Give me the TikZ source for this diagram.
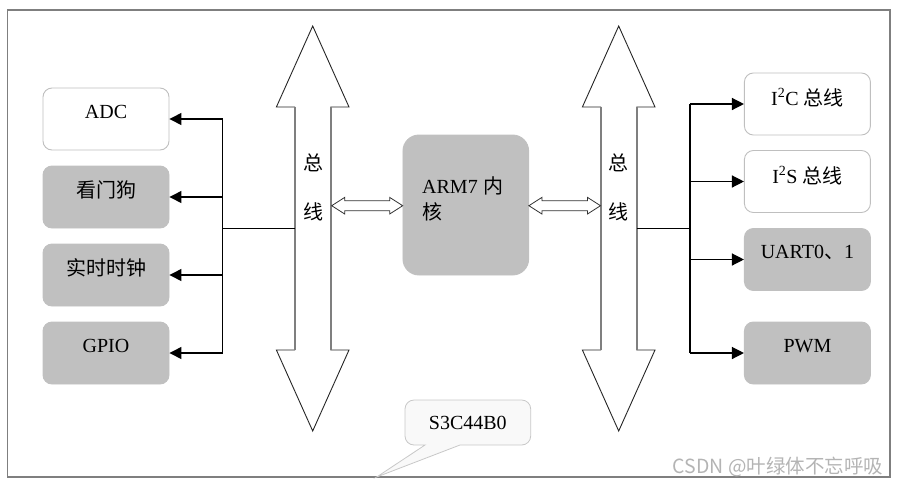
\documentclass[tikz,border=0pt]{standalone}
\usepackage{fontspec}
\setmainfont{Liberation Serif}
\newfontfamily\cjk{Noto Sans CJK SC}
\usetikzlibrary{arrows.meta,calc}
\newcommand\zh[1]{{\cjk #1}}
\definecolor{boxgray}{HTML}{C0C0C0}
\definecolor{bordergray}{HTML}{BFBFBF}
\definecolor{framegray}{HTML}{7F7F7F}
\definecolor{callfill}{HTML}{F9F9F9}
\definecolor{callline}{HTML}{C8C8C8}
\definecolor{wmgray}{HTML}{B4B4B4}
\tikzset{
  whitebox/.style={draw=bordergray, line width=0.9pt, fill=white, rounded corners=9pt, minimum width=126pt, minimum height=62pt, inner sep=0pt},
  graybox/.style={draw=boxgray, line width=0.9pt, fill=boxgray, rounded corners=9pt, minimum width=126pt, minimum height=62pt, inner sep=0pt},
  txt/.style={font=\fontsize{20}{24}\selectfont, inner sep=0pt},
  conn/.style={draw=black, line width=1.3pt},
  arr/.style={conn, -{Triangle[length=12pt,width=12pt]}},
  bus/.style={draw=black!85, line width=0.9pt, fill=white, line join=miter},
  shaft/.style={draw=framegray, line width=1.6pt},
  dbl/.style={draw=black!80, line width=0.8pt, fill=white, line join=miter},
  frame/.style={draw=framegray, line width=1.5pt},
  callout/.style={draw=callline, line width=0.8pt, fill=callfill}
}
\newcommand\dblarr[3]{%
  \draw[dbl] (#1,#3) -- (#1+13,#3-8.3) -- (#1+13,#3-5) -- (#2-13,#3-5) -- (#2-13,#3-8.3) -- (#2,#3) -- (#2-13,#3+8.3) -- (#2-13,#3+5) -- (#1+13,#3+5) -- (#1+13,#3+8.3) -- cycle;}
\newcommand\busarrow[1]{%
  \draw[bus] (#1,26) -- (#1+36.3,107) -- (#1+18,107) -- (#1+18,350) -- (#1+36.3,350) -- (#1,431) -- (#1-36.3,350) -- (#1-18,350) -- (#1-18,107) -- (#1-36.3,107) -- cycle;
  \draw[shaft] (#1-18,107) -- (#1-18,350);
  \draw[shaft] (#1+18,107) -- (#1+18,350);}
\begin{document}
\begin{tikzpicture}[x=1pt,y=-1pt]
\useasboundingbox (0,0) rectangle (900,488);
% outer frame
\draw[frame] (7.5,10) rectangle (890,477);
% buses
\busarrow{312.7}
\busarrow{618.7}
\node[txt] (lbus1) at (313,163) {\zh{总}};
\node[txt] (lbus2) at (313,211.5) {\zh{线}};
\node[txt] (rbus1) at (618.7,163) {\zh{总}};
\node[txt] (rbus2) at (618.7,211.5) {\zh{线}};
\coordinate (lbusL) at (294.7,228.7);
\coordinate (lbusR) at (330.7,205.7);
\coordinate (rbusL) at (600.7,205.7);
\coordinate (rbusR) at (636.7,228.7);
% ARM core
\node[graybox, rounded corners=16pt, minimum width=125.7pt, minimum height=140pt] (arm) at (465.8,205) {};
\node[txt, anchor=west, align=left] (armt) at (422,198.5) {ARM7\hspace{6pt}\zh{内}\\[2pt]\zh{核}};
\dblarr{331.7}{402.7}{205.7}
\dblarr{528.9}{600.5}{205.7}
% left boxes
\node[whitebox] (adc) at (106,119) {};
\node[graybox] (wdt) at (106,197) {};
\node[graybox] (rtc) at (106,275) {};
\node[graybox] (gpio) at (106,353) {};
\node[txt] (adct) at (106,112) {ADC};
\node[txt] (wdtt) at (106,190) {\zh{看门狗}};
\node[txt] (rtct) at (106,268) {\zh{实时时钟}};
\node[txt] (gpiot) at (106,346) {GPIO};
% right boxes
\node[whitebox] (i2c) at (807.4,104) {};
\node[whitebox] (i2s) at (807.4,181.5) {};
\node[graybox] (uart) at (807.4,259.5) {};
\node[graybox] (pwm) at (807.4,353) {};
\node[txt] (i2ct) at (807.4,97.5) {I\textsuperscript{2}C \zh{总线}};
\node[txt] (i2st) at (807.4,175.5) {I\textsuperscript{2}S \zh{总线}};
\node[txt] (uartt) at (807.4,252.5) {UART0\zh{、}1};
\node[txt] (pwmt) at (807.4,346) {PWM};
% left connectors
\coordinate (lj) at (222.7,228.7);
\draw[conn] (lbusL) -- (lj);
\draw[conn] (lj |- adc.east) -- (lj |- gpio.east);
\draw[arr] (lj |- adc.east) -- (adc.east);
\draw[arr] (lj |- wdt.east) -- (wdt.east);
\draw[arr] (lj |- rtc.east) -- (rtc.east);
\draw[arr] (lj |- gpio.east) -- (gpio.east);
% right connectors
\coordinate (rj) at (690,228.7);
\draw[conn] (rbusR) -- (rj);
\draw[conn] (rj |- i2c.west) -- (rj |- pwm.west);
\draw[arr] (rj |- i2c.west) -- (i2c.west);
\draw[arr] (rj |- i2s.west) -- (i2s.west);
\draw[arr] (rj |- uart.west) -- (uart.west);
\draw[arr] (rj |- pwm.west) -- (pwm.west);
% callout
\coordinate (ctip) at (376.7,477);
\draw[callout] (425,445) -- (415,445) [rounded corners=9pt] -- (405,445) -- (405,400) -- (530.7,400) -- (530.7,445) -- (495,445) [sharp corners] -- (460,445) -- (ctip) -- cycle;
\node[txt] (chip) at (467.8,422.5) {S3C44B0};
% watermark
\node[font=\cjk\fontsize{19.5}{22}\selectfont, text=wmgray, inner sep=0pt] (wm) at (778,467) {CSDN @叶绿体不忘呼吸};
\end{tikzpicture}
\end{document}
